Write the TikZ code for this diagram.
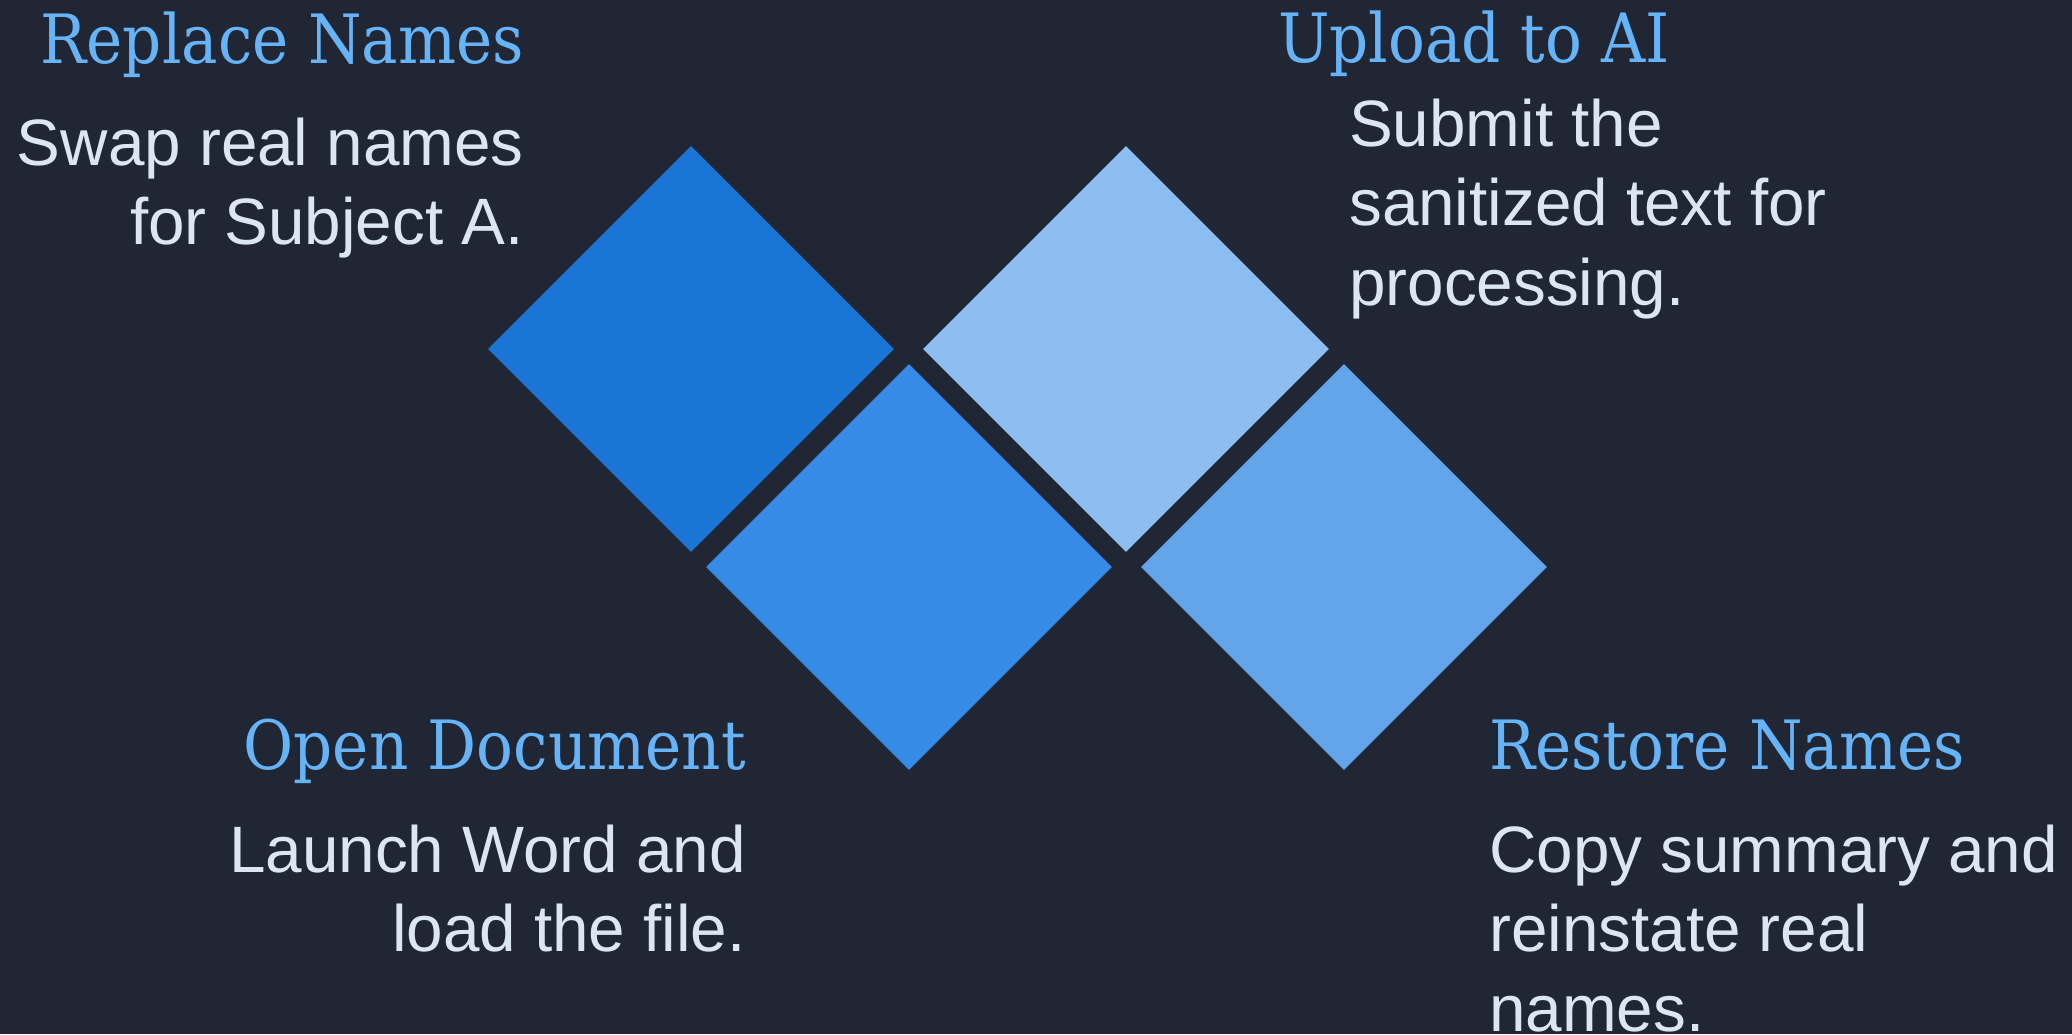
\documentclass[tikz,border=0pt]{standalone}
\usepackage{fontspec}
\setmainfont{Liberation Sans}
\newfontfamily\headfont{DejaVu Serif}[FakeStretch=0.90]
\usetikzlibrary{shapes.geometric}

\definecolor{bg}{HTML}{202633}
\definecolor{headblue}{HTML}{66B3F8}
\definecolor{bodytext}{HTML}{DCE6F2}
\definecolor{tileA}{HTML}{1A75D6}
\definecolor{tileB}{HTML}{368BE6}
\definecolor{tileC}{HTML}{8EBDF1}
\definecolor{tileD}{HTML}{62A5EB}

\tikzset{
  tile/.style={diamond, aspect=1, minimum size=406pt, inner sep=0pt, draw=none},
  heading/.style={inner sep=0pt, text=headblue, font=\headfont\fontsize{68}{79.5}\selectfont},
  body/.style={inner sep=0pt, text=bodytext, font=\fontsize{65.6}{79.5}\selectfont},
}

\begin{document}
\begin{tikzpicture}[x=1pt, y=-1pt]
  % canvas
  \fill[bg] (0,0) rectangle (2072,1034);
  \useasboundingbox (0,0) rectangle (2072,1034);

  % the four tiles
  \node[tile, fill=tileA] (replace) at (691,349) {};
  \node[tile, fill=tileB] (open)    at (909,567) {};
  \node[tile, fill=tileC] (upload)  at (1126,349) {};
  \node[tile, fill=tileD] (restore) at (1344,567) {};

  % multi-line texts are placed by the baseline of their last line

  % step 1: top left
  \node[heading, anchor=base east] (replaceT) at (524,63.5) {Replace Names};
  \node[body, anchor=base east, align=right] (replaceB) at (524,244.5)
    {Swap real names\\for Subject A.};

  % step 2: top right
  \node[heading, anchor=base west] (uploadT) at (1278,62.5) {Upload to AI};
  \node[body, anchor=base west, align=left] (uploadB) at (1349,305)
    {Submit the\\sanitized text for\\processing.};

  % step 3: bottom left
  \node[heading, anchor=base east] (openT) at (746,769) {Open Document};
  \node[body, anchor=base east, align=right] (openB) at (746,951.5)
    {Launch Word and\\load the file.};

  % step 4: bottom right
  \node[heading, anchor=base west] (restoreT) at (1489,769) {Restore Names};
  \node[body, anchor=base west, align=left] (restoreB) at (1489,1031)
    {Copy summary and\\reinstate real\\names.};
\end{tikzpicture}
\end{document}
